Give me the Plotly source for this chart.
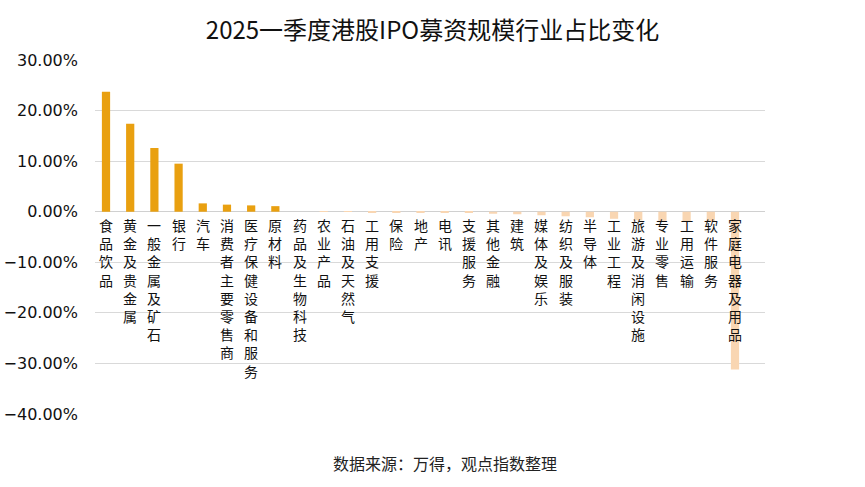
import plotly.graph_objects as go

categories = ["食品饮品", "黄金及贵金属", "一般金属及矿石", "银行", "汽车", "消费者主要零售商",
              "医疗保健设备和服务", "原材料", "药品及生物科技", "农业产品", "石油及天然气",
              "工用支援", "保险", "地产", "电讯", "支援服务", "其他金融", "建筑", "媒体及娱乐",
              "纺织及服装", "半导体", "工业工程", "旅游及消闲设施", "专业零售", "工用运输",
              "软件服务", "家庭电器及用品"]
values = [23.7, 17.4, 12.6, 9.5, 1.65, 1.4, 1.25, 1.1, 0.0, -0.03, -0.05,
          -0.1, -0.15, -0.15, -0.2, -0.25, -0.4, -0.5, -0.7,
          -0.9, -1.1, -1.4, -1.7, -1.8, -1.9, -2.0, -31.2]
tick_vals = [30, 20, 10, 0, -10, -20, -30, -40]

title = "2025一季度港股IPO募资规模行业占比变化"
source = "数据来源：万得，观点指数整理"

pos_color = "#E9A010"
neg_color = "#F9D6B2"
colors = [pos_color if v >= 0 else neg_color for v in values]

font = "Noto Sans CJK SC"

fig = go.Figure()
fig.add_trace(go.Bar(
    x=list(range(len(categories))),
    y=[v / 100 for v in values],
    marker=dict(color=colors, line=dict(width=0)),
    width=0.34,
    hoverinfo="skip",
))

annotations = []
for i, c in enumerate(categories):
    annotations.append(dict(
        x=i, y=0, xref="x", yref="y", text="<br>".join(list(c)),
        showarrow=False, yanchor="top", xanchor="center", yshift=-1,
        font=dict(family=font, size=14, color="#111111"),
    ))
annotations.append(dict(
    x=0.522, y=-0.138, xref="paper", yref="paper", xanchor="center", yanchor="middle",
    text=source, showarrow=False, font=dict(family=font, size=16, color="#222222"),
))

fig.update_layout(
    width=865, height=487,
    margin=dict(l=95, r=100, t=60, b=73, autoexpand=False),
    paper_bgcolor="white", plot_bgcolor="white",
    title=dict(text=title, x=0.5, xanchor="center", y=0.938, yanchor="middle",
               font=dict(family=font, size=24, color="#111111")),
    showlegend=False,
    annotations=annotations,
    xaxis=dict(range=[-0.455, 27.24], showticklabels=False, showgrid=False,
               zeroline=False, showline=False, ticks="", automargin=False),
    yaxis=dict(range=[-0.4, 0.3], tickvals=[t / 100 for t in tick_vals], tickformat=".2%",
               showgrid=True, gridcolor="#D9D9D9", gridwidth=1,
               zeroline=True, zerolinecolor="#D0D0D0", zerolinewidth=1,
               showline=False, ticks="", ticklabelstandoff=16, automargin=False,
               tickfont=dict(family="DejaVu Sans", size=16, color="#111111")),
)

fig.write_html("out.html", config={"displayModeBar": False},
               post_script="document.body.style.margin='0';")
